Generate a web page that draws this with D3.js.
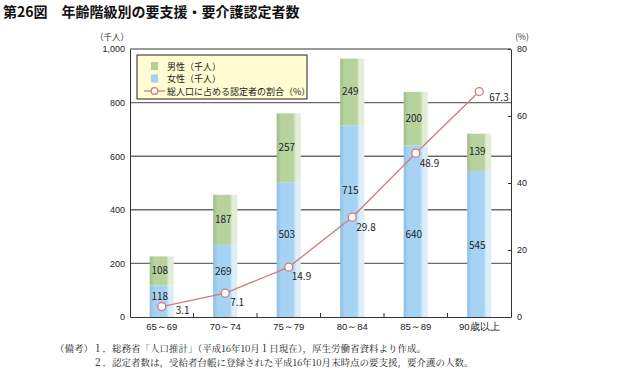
<!DOCTYPE html>
<html>
<head>
<meta charset="utf-8">
<script src="https://cdn.jsdelivr.net/npm/d3@7"></script>
<style>
  body { margin: 0; background: #fff; }
  svg { display: block; font-family: "Noto Sans CJK JP", "Noto Sans", sans-serif; }
</style>
</head>
<body>
<div id="chart"></div>
<script>
// data
const ageGroups = ["65～69", "70～74", "75～79", "80～84", "85～89", "90歳以上"];
const female = [118, 269, 503, 715, 640, 545];
const male = [108, 187, 257, 249, 200, 139];
const ratio = [3.1, 7.1, 14.9, 29.8, 48.9, 67.3];
const leftTicks = [0, 200, 400, 600, 800, 1000];
const rightTicks = [0, 20, 40, 60, 80];

// label nudges (px) so they dodge the line, as in the original
const ratioLabelOffset = [[14, 7], [5, 13], [3, 13], [4, 14], [4, 14], [10, 9]];
const femaleLabelShift = [-4, -9, -15, -30, 4, 2];

const width = 626, height = 373;
const margin = { left: 130, right: 115, top: 49, bottom: 56 };
const plotW = width - margin.left - margin.right;
const plotH = height - margin.top - margin.bottom;

const svg = d3.select("#chart").append("svg")
    .attr("width", width)
    .attr("height", height);

const defs = svg.append("defs");
function barGradient(id, dark, mid, light) {
    const gr = defs.append("linearGradient").attr("id", id)
        .attr("x1", "0%").attr("x2", "100%").attr("y1", "0%").attr("y2", "0%");
    [[0, dark], [0.18, mid], [0.68, mid], [0.8, light], [1, light]].forEach(s => {
        gr.append("stop").attr("offset", s[0]).attr("stop-color", s[1]);
    });
}
barGradient("gBlue", "#8dbde0", "#a6d3f3", "#dceefa");
barGradient("gGreen", "#9fbd86", "#b6d39e", "#e2eed6");

// title
svg.append("text")
    .attr("x", 3).attr("y", 17)
    .attr("font-size", 14).attr("font-weight", "bold")
    .attr("fill", "#111")
    .text("第26図　年齢階級別の要支援・要介護認定者数");

const x = d3.scaleBand().domain(ageGroups)
    .range([margin.left, margin.left + plotW])
    .paddingInner(0.62).paddingOuter(0.31);
const y = d3.scaleLinear().domain([0, 1000]).range([margin.top + plotH, margin.top]);
const y2 = d3.scaleLinear().domain([0, 80]).range([margin.top + plotH, margin.top]);

// gridlines
svg.append("g")
    .selectAll("line")
    .data(leftTicks.filter(t => t > 0 && t < 1000))
    .join("line")
    .attr("x1", margin.left).attr("x2", margin.left + plotW)
    .attr("y1", d => y(d)).attr("y2", d => y(d))
    .attr("stroke", "#6b6b6b").attr("stroke-width", 1.4);

// top frame
svg.append("line")
    .attr("x1", margin.left).attr("x2", margin.left + plotW)
    .attr("y1", y(1000)).attr("y2", y(1000))
    .attr("stroke", "#333").attr("stroke-width", 1);

// bars
const rows = ageGroups.map((g, i) => ({ g, f: female[i], m: male[i], s: femaleLabelShift[i] }));
const bars = svg.append("g").selectAll("g").data(rows).join("g");
bars.append("rect")
    .attr("x", d => x(d.g)).attr("width", x.bandwidth())
    .attr("y", d => y(d.f)).attr("height", d => y(0) - y(d.f))
    .attr("fill", "url(#gBlue)");
bars.append("rect")
    .attr("x", d => x(d.g)).attr("width", x.bandwidth())
    .attr("y", d => y(d.f + d.m)).attr("height", d => y(d.f) - y(d.f + d.m))
    .attr("fill", "url(#gGreen)");

// bottom axis with small ticks between groups
const bottom = svg.append("g")
    .attr("transform", `translate(0,${y(0)})`)
    .call(d3.axisBottom(x).tickSize(0).tickPadding(6));
bottom.select(".domain").attr("stroke", "#333");
bottom.selectAll("text").attr("font-size", 9.5).attr("fill", "#222");
svg.append("g").selectAll("line")
    .data(ageGroups.slice(1))
    .join("line")
    .attr("x1", d => x(d) - x.step() * x.paddingInner() / 2)
    .attr("x2", d => x(d) - x.step() * x.paddingInner() / 2)
    .attr("y1", y(0)).attr("y2", y(0) - 4)
    .attr("stroke", "#333");

// ratio line
const pts = ageGroups.map((g, i) => ({ g, v: ratio[i], off: ratioLabelOffset[i] }));
const cx = d => x(d.g) + x.bandwidth() / 2;
svg.append("path")
    .datum(pts)
    .attr("fill", "none").attr("stroke", "#d27a7d").attr("stroke-width", 1.3)
    .attr("d", d3.line().x(cx).y(d => y2(d.v)));
svg.append("g").selectAll("circle").data(pts).join("circle")
    .attr("cx", cx).attr("cy", d => y2(d.v)).attr("r", 4)
    .attr("fill", "#fff").attr("stroke", "#d27a7d").attr("stroke-width", 1.3);
svg.append("g").selectAll("text").data(pts).join("text")
    .attr("x", d => cx(d) + d.off[0]).attr("y", d => y2(d.v) + d.off[1])
    .attr("font-size", 10).attr("fill", "#222")
    .text(d => d.v.toFixed(1));

// bar value labels
bars.append("text")
    .attr("x", d => x(d.g) + x.bandwidth() / 2 - 2)
    .attr("y", d => (y(0) + y(d.f)) / 2 + 3 + d.s)
    .attr("text-anchor", "middle").attr("font-size", 10).attr("fill", "#222")
    .text(d => d.f);
bars.append("text")
    .attr("x", d => x(d.g) + x.bandwidth() / 2 - 2)
    .attr("y", d => (y(d.f) + y(d.f + d.m)) / 2 + 3)
    .attr("text-anchor", "middle").attr("font-size", 10).attr("fill", "#222")
    .text(d => d.m);

// left axis
const leftAxis = svg.append("g")
    .attr("transform", `translate(${margin.left},0)`)
    .call(d3.axisLeft(y).tickValues(leftTicks).tickSize(0).tickPadding(5)
        .tickFormat(d3.format(",")));
leftAxis.select(".domain").attr("stroke", "#333");
leftAxis.selectAll("text").attr("font-size", 9).attr("fill", "#222")
    .attr("font-family", "Liberation Sans, Arial, sans-serif");

// right axis, ticks pointing in
const rightAxis = svg.append("g")
    .attr("transform", `translate(${margin.left + plotW},0)`)
    .call(d3.axisRight(y2).tickValues(rightTicks).tickSize(0).tickPadding(6));
rightAxis.select(".domain").attr("stroke", "#333");
rightAxis.selectAll(".tick line").attr("x2", -3).attr("stroke", "#333");
rightAxis.selectAll("text").attr("font-size", 9).attr("fill", "#222")
    .attr("font-family", "Liberation Sans, Arial, sans-serif");

// unit labels
svg.append("text").attr("x", 112).attr("y", 40).attr("text-anchor", "middle")
    .attr("font-size", 8.5).attr("fill", "#333").text("（千人）");
svg.append("text").attr("x", 522).attr("y", 40).attr("text-anchor", "middle")
    .attr("font-size", 8.5).attr("fill", "#333").text("(%)");

// legend
const lg = svg.append("g").attr("transform", "translate(137,55)");
lg.append("rect").attr("width", 170).attr("height", 44)
    .attr("fill", "#fffbd2").attr("stroke", "#222").attr("stroke-width", 1);
const legendItems = [
    { label: "男性（千人）", type: "rect", color: "#b2cf98" },
    { label: "女性（千人）", type: "rect", color: "#a3cff0" },
    { label: "総人口に占める認定者の割合（%）", type: "line", color: "#d27a7d" }
];
const li = lg.selectAll("g").data(legendItems).join("g")
    .attr("transform", (d, i) => `translate(0,${11 + i * 12.5})`);
li.filter(d => d.type === "rect").append("rect")
    .attr("x", 14).attr("y", -4).attr("width", 7).attr("height", 8)
    .attr("fill", d => d.color);
li.filter(d => d.type === "line").append("line")
    .attr("x1", 7).attr("x2", 28).attr("y1", 0).attr("y2", 0)
    .attr("stroke", d => d.color).attr("stroke-width", 1.3);
li.filter(d => d.type === "line").append("circle")
    .attr("cx", 17.5).attr("cy", 0).attr("r", 3.3)
    .attr("fill", "#fff").attr("stroke", d => d.color).attr("stroke-width", 1.2);
li.append("text").attr("x", 30).attr("y", 3.5)
    .attr("font-size", 9).attr("fill", "#222")
    .text(d => d.label);

// notes
const notes = [
    "（備考）１．総務省「人口推計」（平成16年10月１日現在），厚生労働省資料より作成。",
    "　　　　２．認定者数は，受給者台帳に登録された平成16年10月末時点の要支援，要介護の人数。"
];
svg.append("g").selectAll("text").data(notes).join("text")
    .attr("x", 55).attr("y", (d, i) => 352 + i * 14)
    .attr("font-size", 9.5).attr("fill", "#222")
    .attr("font-family", "Noto Serif CJK JP, Noto Sans CJK JP, serif")
    .text(d => d);
</script>
</body>
</html>
